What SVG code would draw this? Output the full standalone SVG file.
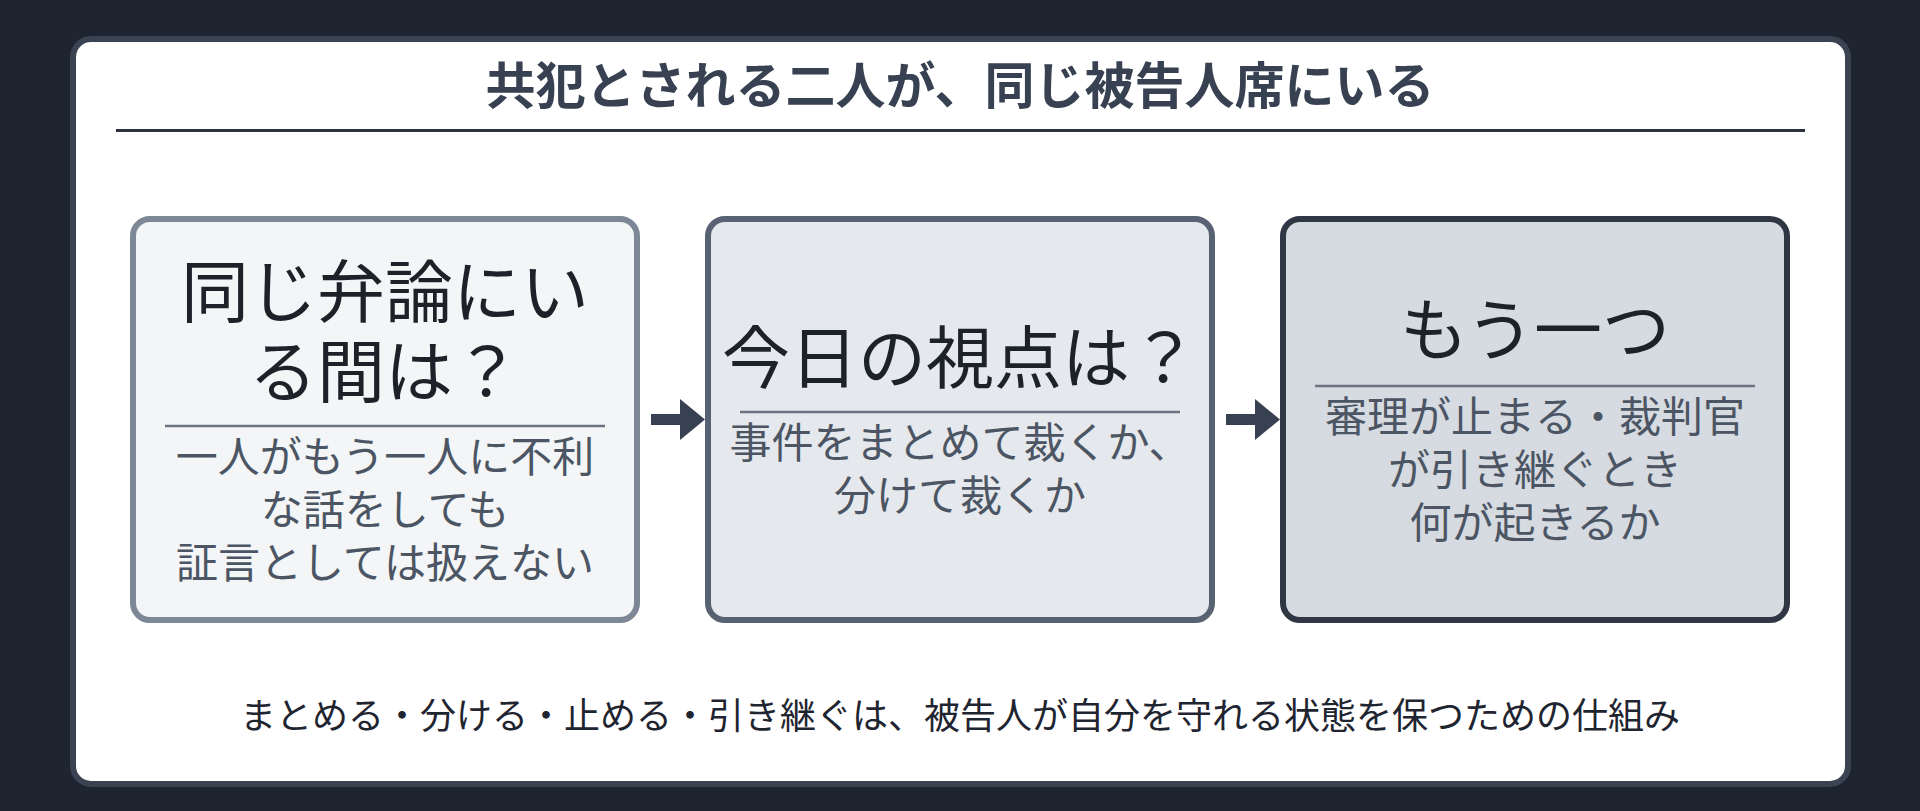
<svg xmlns="http://www.w3.org/2000/svg" width="1920" height="811" viewBox="0 0 1920 811">
  <defs>
    <style>
      text { font-family: "Noto Sans CJK JP", "Noto Sans", sans-serif; text-anchor: middle; }
      .title { font-size: 50px; font-weight: 700; fill: #374151; }
      .head { font-size: 68px; font-weight: 400; fill: #1d2229; }
      .sub { font-size: 42px; font-weight: 400; fill: #4b5563; }
      .foot { font-size: 36px; font-weight: 400; fill: #1f2530; }
      .sep { stroke: #6b7380; stroke-width: 2.5; }
      .conn { stroke: #374151; stroke-width: 11; fill: none; }
    </style>
    <marker id="arrowhead" markerUnits="userSpaceOnUse" markerWidth="25" markerHeight="41" refX="0" refY="20.5" orient="auto" viewBox="0 0 25 41">
      <path d="M0,0 L25,20.5 L0,41 Z" fill="#374151"/>
    </marker>
  </defs>

  <rect x="0" y="0" width="1920" height="811" fill="#1e2530"/>

  <g id="card">
    <rect x="73" y="39" width="1775" height="745" rx="18" ry="18" fill="#ffffff" stroke="#3a4351" stroke-width="6"/>
    <text class="title" x="960" y="104">共犯とされる二人が、同じ被告人席にいる</text>
    <line x1="116" y1="130.5" x2="1805" y2="130.5" stroke="#2b323d" stroke-width="3"/>
  </g>

  <g id="node-1">
    <rect x="133" y="219" width="504" height="401" rx="17" ry="17" fill="#f3f5f7" stroke="#7d8795" stroke-width="6"/>
    <text class="head" x="385" y="317">同じ弁論にい</text>
    <text class="head" x="385" y="397">る間は？</text>
    <line class="sep" x1="165" y1="426" x2="605" y2="426"/>
    <text class="sub" x="385" y="472">一人がもう一人に不利</text>
    <text class="sub" x="385" y="525">な話をしても</text>
    <text class="sub" x="385" y="578">証言としては扱えない</text>
  </g>

  <g id="node-2">
    <rect x="708" y="219" width="504" height="401" rx="17" ry="17" fill="#e5e8ec" stroke="#586273" stroke-width="6"/>
    <text class="head" x="960" y="383">今日の視点は？</text>
    <line class="sep" x1="740" y1="412" x2="1180" y2="412"/>
    <text class="sub" x="960" y="458">事件をまとめて裁くか、</text>
    <text class="sub" x="960" y="511">分けて裁くか</text>
  </g>

  <g id="node-3">
    <rect x="1283" y="219" width="504" height="401" rx="17" ry="17" fill="#d6dae1" stroke="#2f3744" stroke-width="6"/>
    <text class="head" x="1535" y="355">もう一つ</text>
    <line class="sep" x1="1315" y1="386" x2="1755" y2="386"/>
    <text class="sub" x="1535" y="432">審理が止まる・裁判官</text>
    <text class="sub" x="1535" y="485">が引き継ぐとき</text>
    <text class="sub" x="1535" y="538">何が起きるか</text>
  </g>

  <g id="connectors">
    <line class="conn" x1="651" y1="419.5" x2="680" y2="419.5" marker-end="url(#arrowhead)"/>
    <line class="conn" x1="1226" y1="419.5" x2="1255" y2="419.5" marker-end="url(#arrowhead)"/>
  </g>

  <g id="footer">
    <text class="foot" x="960" y="729">まとめる・分ける・止める・引き継ぐは、被告人が自分を守れる状態を保つための仕組み</text>
  </g>
</svg>
